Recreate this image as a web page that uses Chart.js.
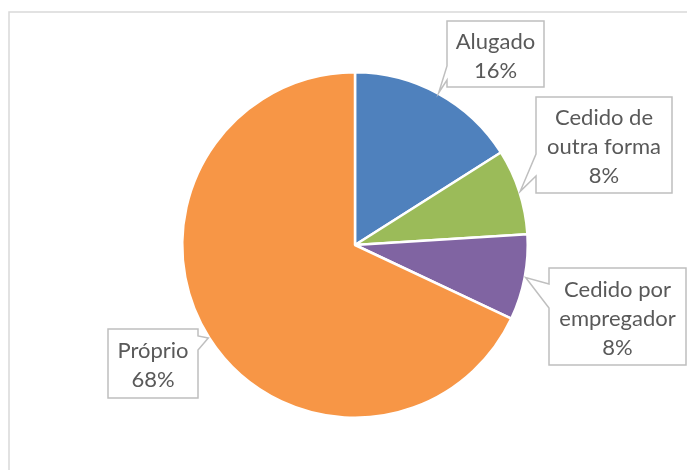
<!DOCTYPE html>
<html>
<head>
<meta charset="utf-8">
<script src="https://cdn.jsdelivr.net/npm/chart.js@4/dist/chart.umd.min.js"></script>
<style>
    html, body { margin: 0; padding: 0; background: #ffffff; }
    #wrap { width: 687px; height: 470px; }
</style>
</head>
<body>
<div id="wrap"><canvas id="pieChart" width="687" height="470"></canvas></div>
<script>
// Chart data
const categories = ['Alugado', 'Cedido de outra forma', 'Cedido por empregador', 'Próprio'];
const labelLines = [['Alugado'], ['Cedido de', 'outra forma'], ['Cedido por', 'empregador'], ['Próprio']];
const shares = [16, 8, 8, 68];
const sliceColors = ['#4F81BD', '#9BBB59', '#8064A2', '#F79646'];

// Callout boxes (label layout): box rect, side the wedge sits on, wedge base along that side
const callouts = [
    { x: 447, y: 21, w: 97, h: 66, side: 'left', b1: 66, b2: 80 },
    { x: 536, y: 97, w: 136, h: 96, side: 'left', b1: 154, b2: 176 },
    { x: 549, y: 268, w: 137, h: 97, side: 'left', b1: 284, b2: 308 },
    { x: 108, y: 329, w: 90, h: 69, side: 'right', b1: 336, b2: 350 }
];

// Light frame around the chart
const framePlugin = {
    id: 'frame',
    beforeDraw(chart) {
        const ctx = chart.ctx;
        ctx.save();
        ctx.fillStyle = '#ffffff';
        ctx.fillRect(0, 0, chart.width, chart.height);
        ctx.strokeStyle = '#D9D9D9';
        ctx.lineWidth = 1.5;
        ctx.strokeRect(9, 12, 720, 500);
        ctx.restore();
    }
};

// Callout labels pointing at the middle of each slice
const calloutPlugin = {
    id: 'callouts',
    afterDraw(chart) {
        const ctx = chart.ctx;
        const meta = chart.getDatasetMeta(0);
        const total = shares.reduce((a, b) => a + b, 0);
        ctx.save();
        meta.data.forEach((arc, i) => {
            const c = callouts[i];
            const mid = (arc.startAngle + arc.endAngle) / 2;
            const tipX = arc.x + Math.cos(mid) * (arc.outerRadius + 1);
            const tipY = arc.y + Math.sin(mid) * (arc.outerRadius + 1);
            const right = c.x + c.w, bottom = c.y + c.h;

            ctx.beginPath();
            if (c.side === 'left') {
                ctx.moveTo(c.x, c.y);
                ctx.lineTo(right, c.y);
                ctx.lineTo(right, bottom);
                ctx.lineTo(c.x, bottom);
                ctx.lineTo(c.x, c.b2);
                ctx.lineTo(tipX, tipY);
                ctx.lineTo(c.x, c.b1);
                ctx.closePath();
            } else {
                ctx.moveTo(c.x, c.y);
                ctx.lineTo(right, c.y);
                ctx.lineTo(right, c.b1);
                ctx.lineTo(tipX, tipY);
                ctx.lineTo(right, c.b2);
                ctx.lineTo(right, bottom);
                ctx.lineTo(c.x, bottom);
                ctx.closePath();
            }
            ctx.fillStyle = '#ffffff';
            ctx.fill();
            ctx.strokeStyle = '#BFBFBF';
            ctx.lineWidth = 1.5;
            ctx.stroke();

            const pct = Math.round(shares[i] / total * 100) + '%';
            const lines = labelLines[i].concat([pct]);
            const lh = 29;
            const cx = c.x + c.w / 2;
            const startY = c.y + c.h / 2 - (lines.length - 1) * lh / 2 + 2;
            ctx.fillStyle = '#595959';
            ctx.font = '22px Lato, "Liberation Sans", sans-serif';
            ctx.textAlign = 'center';
            ctx.textBaseline = 'middle';
            lines.forEach((t, k) => ctx.fillText(t, cx, startY + k * lh));
        });
        ctx.restore();
    }
};

document.addEventListener('DOMContentLoaded', function() {
    const ctx = document.getElementById('pieChart').getContext('2d');
    new Chart(ctx, {
        type: 'pie',
        data: {
            labels: categories,
            datasets: [{
                data: shares,
                backgroundColor: sliceColors,
                borderColor: '#ffffff',
                borderWidth: 2.5
            }]
        },
        options: {
            responsive: false,
            animation: false,
            layout: {
                padding: { left: 181, right: 158, top: 71, bottom: 51 }
            },
            plugins: {
                legend: { display: false },
                tooltip: { enabled: false }
            }
        },
        plugins: [framePlugin, calloutPlugin]
    });
});
</script>
</body>
</html>
